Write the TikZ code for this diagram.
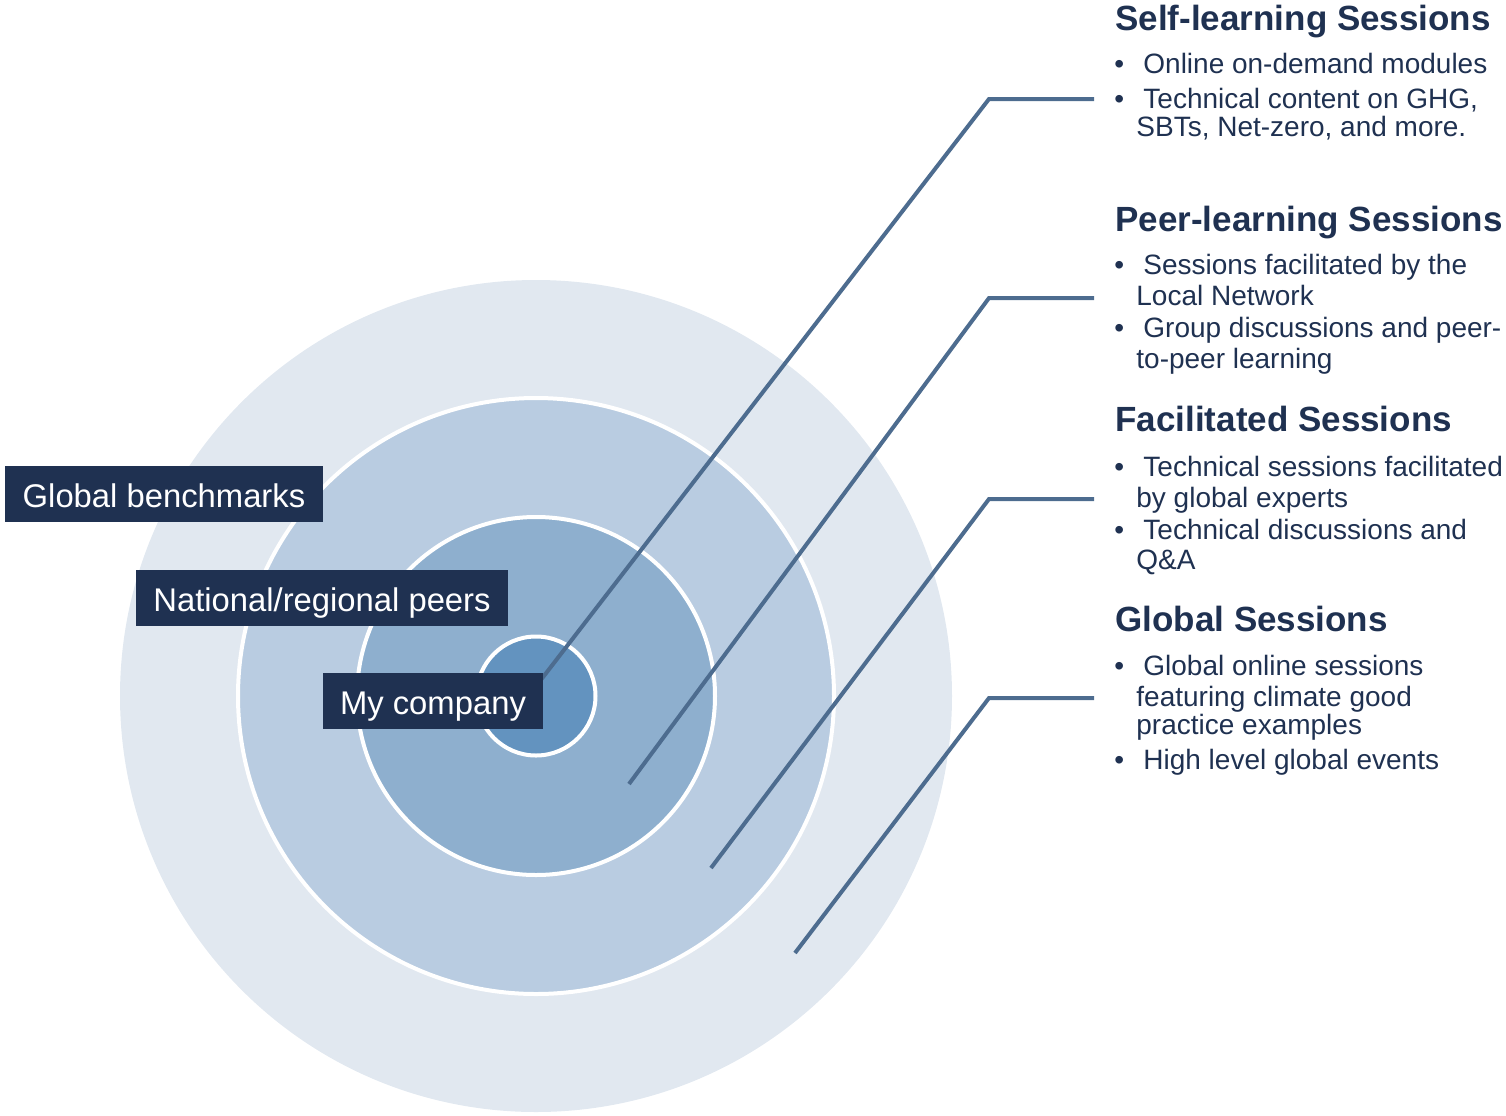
\documentclass[tikz,border=0pt]{standalone}
\usepackage{fontspec}
\setmainfont{Liberation Sans}
\definecolor{navy}{HTML}{1F3151}
\definecolor{linkblue}{HTML}{4D6C8F}
\definecolor{ringA}{HTML}{E1E8F0}
\definecolor{ringB}{HTML}{B9CCE1}
\definecolor{ringC}{HTML}{8EAFCE}
\definecolor{ringD}{HTML}{6393BF}
\begin{document}
\begin{tikzpicture}[x=0.5pt,y=-0.5pt]
		\tikzset{ring/.style={shape = circle, draw = white, line width = 2pt, inner sep = 0pt}}
		\tikzset{tag/.style={fill = navy, text = white, inner sep = 0pt, minimum height = 28pt,
				text height = 13.5pt, text depth = 0pt, font = \fontsize{16.4}{19}\selectfont}}
		\tikzset{link/.style={draw = linkblue, line width = 2pt}}
		\tikzset{heading/.style={anchor = base west, inner sep = 0pt, text = navy,
				font = \bfseries\fontsize{17.5}{21}\selectfont}}
		\tikzset{bodyline/.style={anchor = base west, inner sep = 0pt, text = navy,
				font = \fontsize{14}{17}\selectfont}}
		\useasboundingbox (0, 0) rectangle (1506, 1115);
		%rings
		\node[ring, fill = ringA, draw = none, minimum size = 416pt] (global) at (536, 696) {};
		\node[ring, fill = ringB, minimum size = 298pt] (national) at (536, 696) {};
		\node[ring, fill = ringC, minimum size = 179pt] (peers) at (536, 696) {};
		\node[ring, fill = ringD, minimum size = 59.5pt] (company) at (536, 696) {};
		%links
		\coordinate (self tip) at (530, 694);
		\coordinate (self knee) at (989, 99);
		\coordinate (self end) at (1094, 99);
		\coordinate (peer tip) at (629, 784);
		\coordinate (peer knee) at (989, 298);
		\coordinate (peer end) at (1094, 298);
		\coordinate (fac tip) at (711, 868);
		\coordinate (fac knee) at (989, 499);
		\coordinate (fac end) at (1094, 499);
		\coordinate (glob tip) at (795, 953);
		\coordinate (glob knee) at (989, 698);
		\coordinate (glob end) at (1094, 698);
		\draw[link] (self tip) -- (self knee) -- (self end);
		\draw[link] (peer tip) -- (peer knee) -- (peer end);
		\draw[link] (fac tip) -- (fac knee) -- (fac end);
		\draw[link] (glob tip) -- (glob knee) -- (glob end);
		%tags
		\node[tag, minimum width = 159pt] (bench tag) at (164, 494) {Global benchmarks};
		\node[tag, minimum width = 186pt] (nat tag) at (322, 598) {National/regional peers};
		\node[tag, minimum width = 110pt] (my tag) at (433, 701) {My company};
		%self-learning
		\node[heading] (self head) at (1115, 30) {Self-learning Sessions};
		\node[bodyline] (self b1) at (1114, 73) {•};
		\node[bodyline] (self t1) at (1143, 73) {Online on-demand modules};
		\node[bodyline] (self b2) at (1114, 108) {•};
		\node[bodyline] (self t2) at (1143, 108) {Technical content on GHG,};
		\node[bodyline] (self t3) at (1136, 136) {SBTs, Net-zero, and more.};
		%peer-learning
		\node[heading] (peer head) at (1115, 231) {Peer-learning Sessions};
		\node[bodyline] (peer b1) at (1114, 274) {•};
		\node[bodyline] (peer t1) at (1143, 274) {Sessions facilitated by the};
		\node[bodyline] (peer t2) at (1136, 305) {Local Network};
		\node[bodyline] (peer b2) at (1114, 337) {•};
		\node[bodyline] (peer t3) at (1143, 337) {Group discussions and peer-};
		\node[bodyline] (peer t4) at (1136, 368) {to-peer learning};
		%facilitated
		\node[heading] (fac head) at (1115, 431) {Facilitated Sessions};
		\node[bodyline] (fac b1) at (1114, 476) {•};
		\node[bodyline] (fac t1) at (1143, 476) {Technical sessions facilitated};
		\node[bodyline] (fac t2) at (1136, 507) {by global experts};
		\node[bodyline] (fac b2) at (1114, 539) {•};
		\node[bodyline] (fac t3) at (1143, 539) {Technical discussions and};
		\node[bodyline] (fac t4) at (1136, 569) {Q\&A};
		%global
		\node[heading] (glob head) at (1115, 631) {Global Sessions};
		\node[bodyline] (glob b1) at (1114, 675) {•};
		\node[bodyline] (glob t1) at (1143, 675) {Global online sessions};
		\node[bodyline] (glob t2) at (1136, 706) {featuring climate good};
		\node[bodyline] (glob t3) at (1136, 734) {practice examples};
		\node[bodyline] (glob b2) at (1114, 769) {•};
		\node[bodyline] (glob t4) at (1143, 769) {High level global events};
\end{tikzpicture}
\end{document}
